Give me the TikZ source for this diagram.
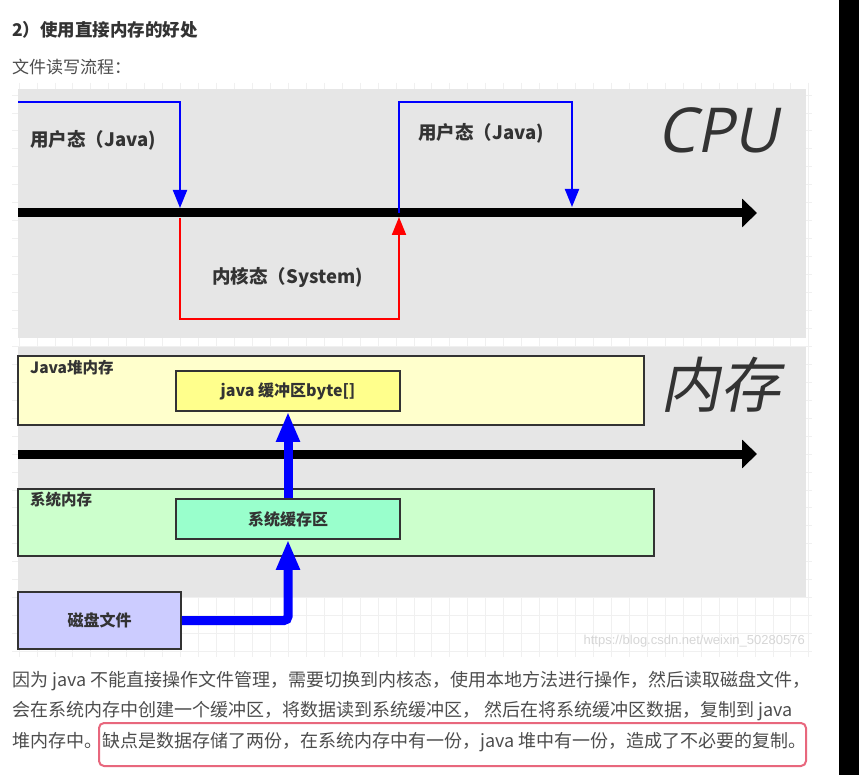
\documentclass[tikz,border=0pt]{standalone}
\usepackage{fontspec}
\setmainfont{Noto Sans CJK SC}
\newfontfamily\cpufont[FakeSlant=0.2]{Open Sans}
\newfontfamily\slantcjk[FakeSlant=0.2]{Noto Sans CJK SC}
\newfontfamily\wmfont{Liberation Sans}
\usetikzlibrary{arrows.meta}
\definecolor{panel}{HTML}{E6E6E6}
\definecolor{gridc}{HTML}{F0F0F0}
\definecolor{ink}{HTML}{333333}
\definecolor{bodyc}{HTML}{4D4D4D}
\definecolor{heapY}{HTML}{FFFFCC}
\definecolor{bufY}{HTML}{FFFF8C}
\definecolor{sysG}{HTML}{CCFFCC}
\definecolor{bufG}{HTML}{99FFCC}
\definecolor{diskB}{HTML}{CCCCFF}
\definecolor{hlred}{HTML}{E8677D}
\definecolor{wmc}{HTML}{D6D6D6}
\tikzset{
  box/.style={draw=ink, line width=1.5pt, inner sep=0pt},
  boxtext/.style={font=\fontsize{16}{16}\selectfont\bfseries, text=ink},
  lbl/.style={font=\fontsize{18.5}{18.5}\selectfont\bfseries, text=ink, inner sep=0pt},
  smlbl/.style={font=\fontsize{15.5}{15.5}\selectfont\bfseries, text=ink, inner sep=0pt, anchor=west},
  body/.style={font=\fontsize{18}{18}\selectfont, text=bodyc, inner sep=0pt, anchor=west},
  axisline/.style={line width=9pt, black, -{Triangle[length=15pt,width=28pt]}},
  thinblue/.style={line width=2pt, blue, -{Triangle[length=18pt,width=14pt]}},
  thinred/.style={line width=2pt, red, -{Triangle[length=18pt,width=14pt]}},
  fat/.style={line width=9pt, blue, -{Triangle[length=30pt,width=22pt]}},
  gridline/.style={gridc, line width=0.8pt}
}
\begin{document}
\begin{tikzpicture}[x=1pt,y=-1pt]
\useasboundingbox (0,0) rectangle (859,775);
\fill[white] (0,0) rectangle (859,775);
% grid
\begin{scope}
\clip (12,83) rectangle (812,657);
\foreach \k in {0,...,44} \draw[gridline] ({19+17.95*\k},83) -- ({19+17.95*\k},657);
\foreach \k in {0,...,31} \draw[gridline] (12,{95+17.95*\k}) -- (812,{95+17.95*\k});
\end{scope}
% heading
\node[anchor=west, inner sep=0pt, text=ink, font=\fontsize{17.5}{17.5}\selectfont\bfseries] (title) at (12,30) {2）使用直接内存的好处};
\node[anchor=west, inner sep=0pt, text=bodyc, font=\fontsize{17}{17}\selectfont] (sub) at (12,67) {文件读写流程：};
% CPU panel
\fill[panel] (18,89) rectangle (806,338);
\node[text=ink, font=\fontsize{62}{62}\selectfont\cpufont, inner sep=0pt] (cpu) at (718,130) {CPU};
\coordinate (ax1L) at (18,213);
\coordinate (ax1R) at (757,213);
\draw[axisline] (ax1L) -- (ax1R);
\coordinate (b1s) at (18,102);
\coordinate (b1c) at (180,102);
\coordinate (b1e) at (180,208);
\draw[thinblue] (b1s) -- (b1c) -- (b1e);
\coordinate (r1s) at (180,218);
\coordinate (r1c) at (180,319);
\coordinate (r2c) at (399,319);
\coordinate (r1e) at (399,217);
\draw[thinred] (r1s) -- (r1c) -- (r2c) -- (r1e);
\coordinate (b2s) at (399,213);
\coordinate (b2c) at (399,102);
\coordinate (b3c) at (572,102);
\coordinate (b2e) at (572,207);
\draw[thinblue] (b2s) -- (b2c) -- (b3c) -- (b2e);
\node[lbl, anchor=west] (user1) at (30,140) {用户态（Java)};
\node[lbl, anchor=west] (user2) at (418,133) {用户态（Java)};
\node[lbl, anchor=west] (kern) at (212,277) {内核态（System)};
% memory panel
\fill[panel] (18,347) rectangle (806,597);
\node[text=ink, font=\fontsize{60}{60}\selectfont\slantcjk, inner sep=0pt] (mem) at (720,385) {内存};
\node[box, fill=heapY, minimum width=626pt, minimum height=69pt] (heap) at (331,390.5) {};
\node[smlbl] (heaplbl) at (30,368) {Java堆内存};
\node[box, fill=bufY, minimum width=224pt, minimum height=40pt, boxtext] (jbuf) at (288,391) {java 缓冲区byte[]};
\coordinate (ax2L) at (18,454);
\coordinate (ax2R) at (757,454);
\draw[axisline] (ax2L) -- (ax2R);
\node[box, fill=sysG, minimum width=636pt, minimum height=67pt] (sysmem) at (336,522.5) {};
\node[smlbl] (syslbl) at (30,500) {系统内存};
\node[box, fill=bufG, minimum width=224pt, minimum height=40pt, boxtext] (sysbuf) at (288,519) {系统缓存区};
\node[box, fill=diskB, minimum width=163pt, minimum height=57pt, boxtext] (disk) at (99.5,620.5) {磁盘文件};
\draw[fat, rounded corners=4pt] (disk.east) -| (sysbuf.south);
\draw[fat] (sysbuf.north) -- (jbuf.south);
% watermark
\node[anchor=east, inner sep=0pt, text=wmc, font=\fontsize{13}{13}\selectfont\wmfont] (wm) at (805,641) {https://blog.csdn.net/weixin\_50280576};
% body text
\node[body] (t1) at (12,681) {因为 java 不能直接操作文件管理，需要切换到内核态，使用本地方法进行操作，然后读取磁盘文件，};
\node[body] (t2) at (12,711) {会在系统内存中创建一个缓冲区，将数据读到系统缓冲区， 然后在将系统缓冲区数据，复制到 java};
\node[body] (t3) at (12,742) {堆内存中。缺点是数据存储了两份，在系统内存中有一份，java 堆中有一份，造成了不必要的复制。};
\draw[hlred, line width=2pt, rounded corners=5pt] (99,723) rectangle (806,766);
% right dark strip
\fill[black] (839,0) rectangle (859,775);
\end{tikzpicture}
\end{document}
